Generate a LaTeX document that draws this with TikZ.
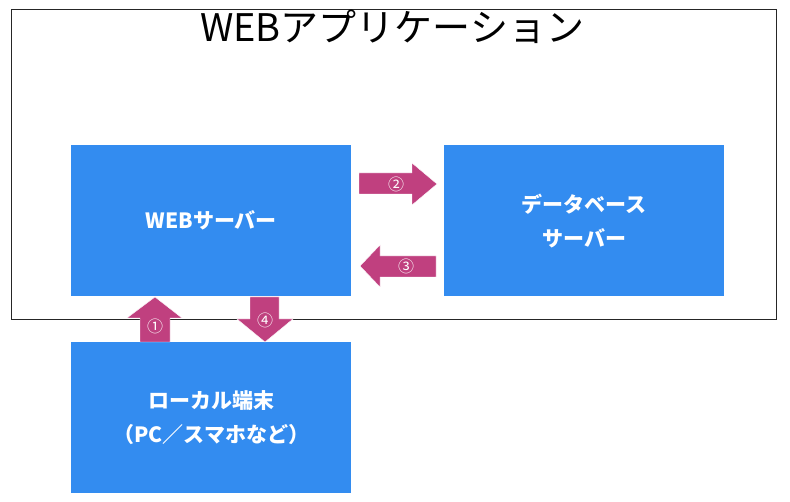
\documentclass[tikz,border=0pt]{standalone}
\usepackage{fontspec}
\setmainfont{Noto Sans CJK JP}
\usetikzlibrary{positioning}
\definecolor{rblue}{HTML}{338CF0}
\definecolor{rpink}{HTML}{C0407F}

\begin{document}
\begin{tikzpicture}[x=1pt, y=-1pt,
    box/.style={fill=rblue, minimum width=280pt, minimum height=151pt, inner sep=0pt,
        text=white, font=\bfseries\fontsize{21}{34}\selectfont, align=center, anchor=north west},
    flow/.style={fill=rpink, draw=white, thin},
    num/.style={text=white, font=\fontsize{16}{16}\selectfont, inner sep=0pt}]

        \useasboundingbox (0,0) rectangle (790,502);

        % outer frame
        \draw[color=black!85, thin] (11,9) rectangle (776,319);
        \node[font=\fontsize{38}{38}\selectfont, inner sep=0pt] (title) at (392,27) {WEBアプリケーション};

        % boxes
        \node[box] (web) at (71,145) {WEBサーバー};
        \node[box] (db) at (444,145) {データベース\\サーバー};
        \node[box] (local) at (71,342) {ローカル端末\\（PC／スマホなど）};

        % block arrows
        \fill[flow] (140,342) -- (140,318) -- (127,318) -- (155,297) -- (182,318) -- (170,318) -- (170,342) -- cycle;
        \fill[flow] (359,173) -- (412,173) -- (412,163) -- (437,184) -- (412,205) -- (412,194) -- (359,194) -- cycle;
        \fill[flow] (436,256) -- (380,256) -- (380,245) -- (360,266) -- (380,287) -- (380,277) -- (436,277) -- cycle;
        \fill[flow] (250,297) -- (279,297) -- (279,319) -- (293,319) -- (265,342) -- (237,319) -- (250,319) -- cycle;

        \node[num] (n1) at (155,326) {①};
        \node[num] (n2) at (396,184) {②};
        \node[num] (n3) at (406,266) {③};
        \node[num] (n4) at (265,320) {④};

    \end{tikzpicture}
\end{document}
